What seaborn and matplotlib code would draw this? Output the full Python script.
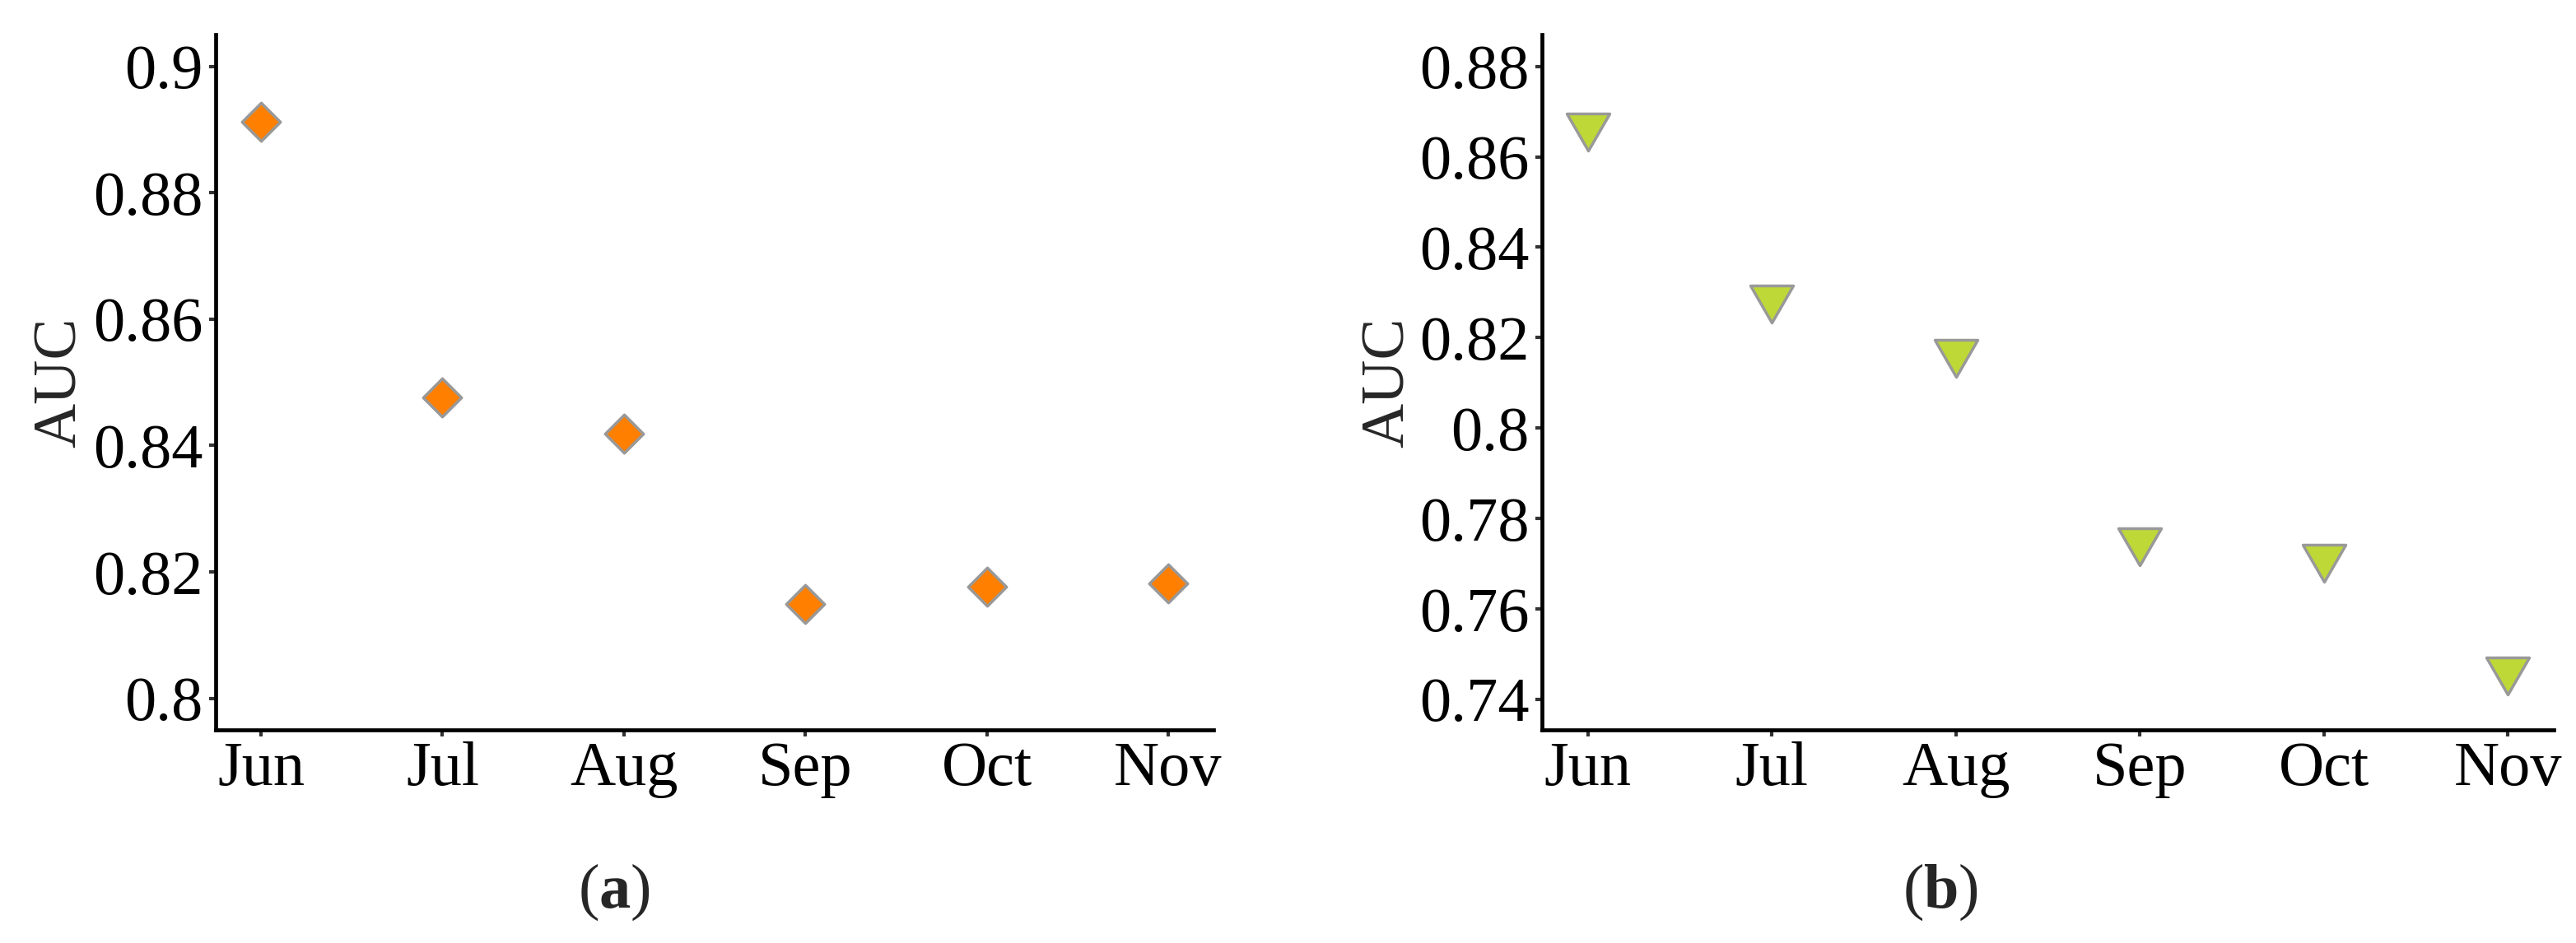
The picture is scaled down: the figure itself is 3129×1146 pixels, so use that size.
import numpy as np
import pandas as pd
import matplotlib
matplotlib.use("Agg")
import matplotlib.pyplot as plt
from matplotlib.path import Path
import seaborn as sns

# data
months = ["Jun", "Jul", "Aug", "Sep", "Oct", "Nov"]
auc_a = [0.8913, 0.8476, 0.8419, 0.8149, 0.8176, 0.8182]
auc_b = [0.8669, 0.8288, 0.8167, 0.7751, 0.7715, 0.7466]
yticks_a = [0.8, 0.82, 0.84, 0.86, 0.88, 0.9]
yticks_b = [0.74, 0.76, 0.78, 0.8, 0.82, 0.84, 0.86, 0.88]
ytick_labels_a = ["0.8", "0.82", "0.84", "0.86", "0.88", "0.9"]
ytick_labels_b = ["0.74", "0.76", "0.78", "0.8", "0.82", "0.84", "0.86", "0.88"]
captions = ["a", "b"]

sns.set_style("ticks")
plt.rcParams["font.family"] = ["Liberation Serif", "DejaVu Serif"]
plt.rcParams["mathtext.fontset"] = "custom"
plt.rcParams["mathtext.rm"] = "Liberation Serif"
plt.rcParams["mathtext.bf"] = "Liberation Serif:bold"

df_a = pd.DataFrame({"month": months, "AUC": auc_a})
df_b = pd.DataFrame({"month": months, "AUC": auc_b})

# down triangle with its centroid on the data point (like R pch 25)
tri_down = Path([(-0.866, 0.5), (0.866, 0.5), (0.0, -1.0), (-0.866, 0.5)],
                [Path.MOVETO, Path.LINETO, Path.LINETO, Path.CLOSEPOLY])

W, H = 3129, 1146
fig = plt.figure(figsize=(W / 100, H / 100), dpi=100)
ax_a = fig.add_axes([262 / W, 1 - 887 / H, (1474 - 262) / W, (887 - 42) / H])
ax_b = fig.add_axes([1873 / W, 1 - 887 / H, (3102 - 1873) / W, (887 - 42) / H])

sns.scatterplot(data=df_a, x="month", y="AUC", marker="D", s=560,
                color="#FF7F00", edgecolor="#999999", linewidth=2.5,
                ax=ax_a, zorder=3, clip_on=False)
sns.scatterplot(data=df_b, x="month", y="AUC", marker=tri_down, s=1870,
                color="#BED837", edgecolor="#999999", linewidth=2.5,
                ax=ax_b, zorder=3, clip_on=False)

setup = [(ax_a, (0.795, 0.90504), yticks_a, ytick_labels_a, -0.127),
         (ax_b, (0.73325, 0.88704), yticks_b, ytick_labels_b, -0.124)]
for ax, ylim, yt, ytl, lab_x in setup:
    ax.set_xlim(-0.25, 5.25)
    ax.set_ylim(*ylim)
    ax.set_yticks(yt)
    ax.set_yticklabels(ytl)
    ax.set_xlabel("")
    ax.set_ylabel("AUC", fontsize=54)
    ax.yaxis.set_label_coords(lab_x, 0.5)
    sns.despine(ax=ax)
    for side in ["left", "bottom"]:
        ax.spines[side].set_linewidth(3.4)
        ax.spines[side].set_color("black")
    ax.tick_params(axis="both", length=6, width=3, color="#333333",
                   labelsize=55, labelcolor="black")
    ax.tick_params(axis="x", pad=4)
    ax.tick_params(axis="y", pad=5)

fig.text(746 / W, 1 - 1084 / H, r"($\mathbf{a}$)", fontsize=55,
         ha="center", va="center")
fig.text(2357 / W, 1 - 1084 / H, r"($\mathbf{b}$)", fontsize=55,
         ha="center", va="center")

fig.savefig("out.png", dpi=100)
